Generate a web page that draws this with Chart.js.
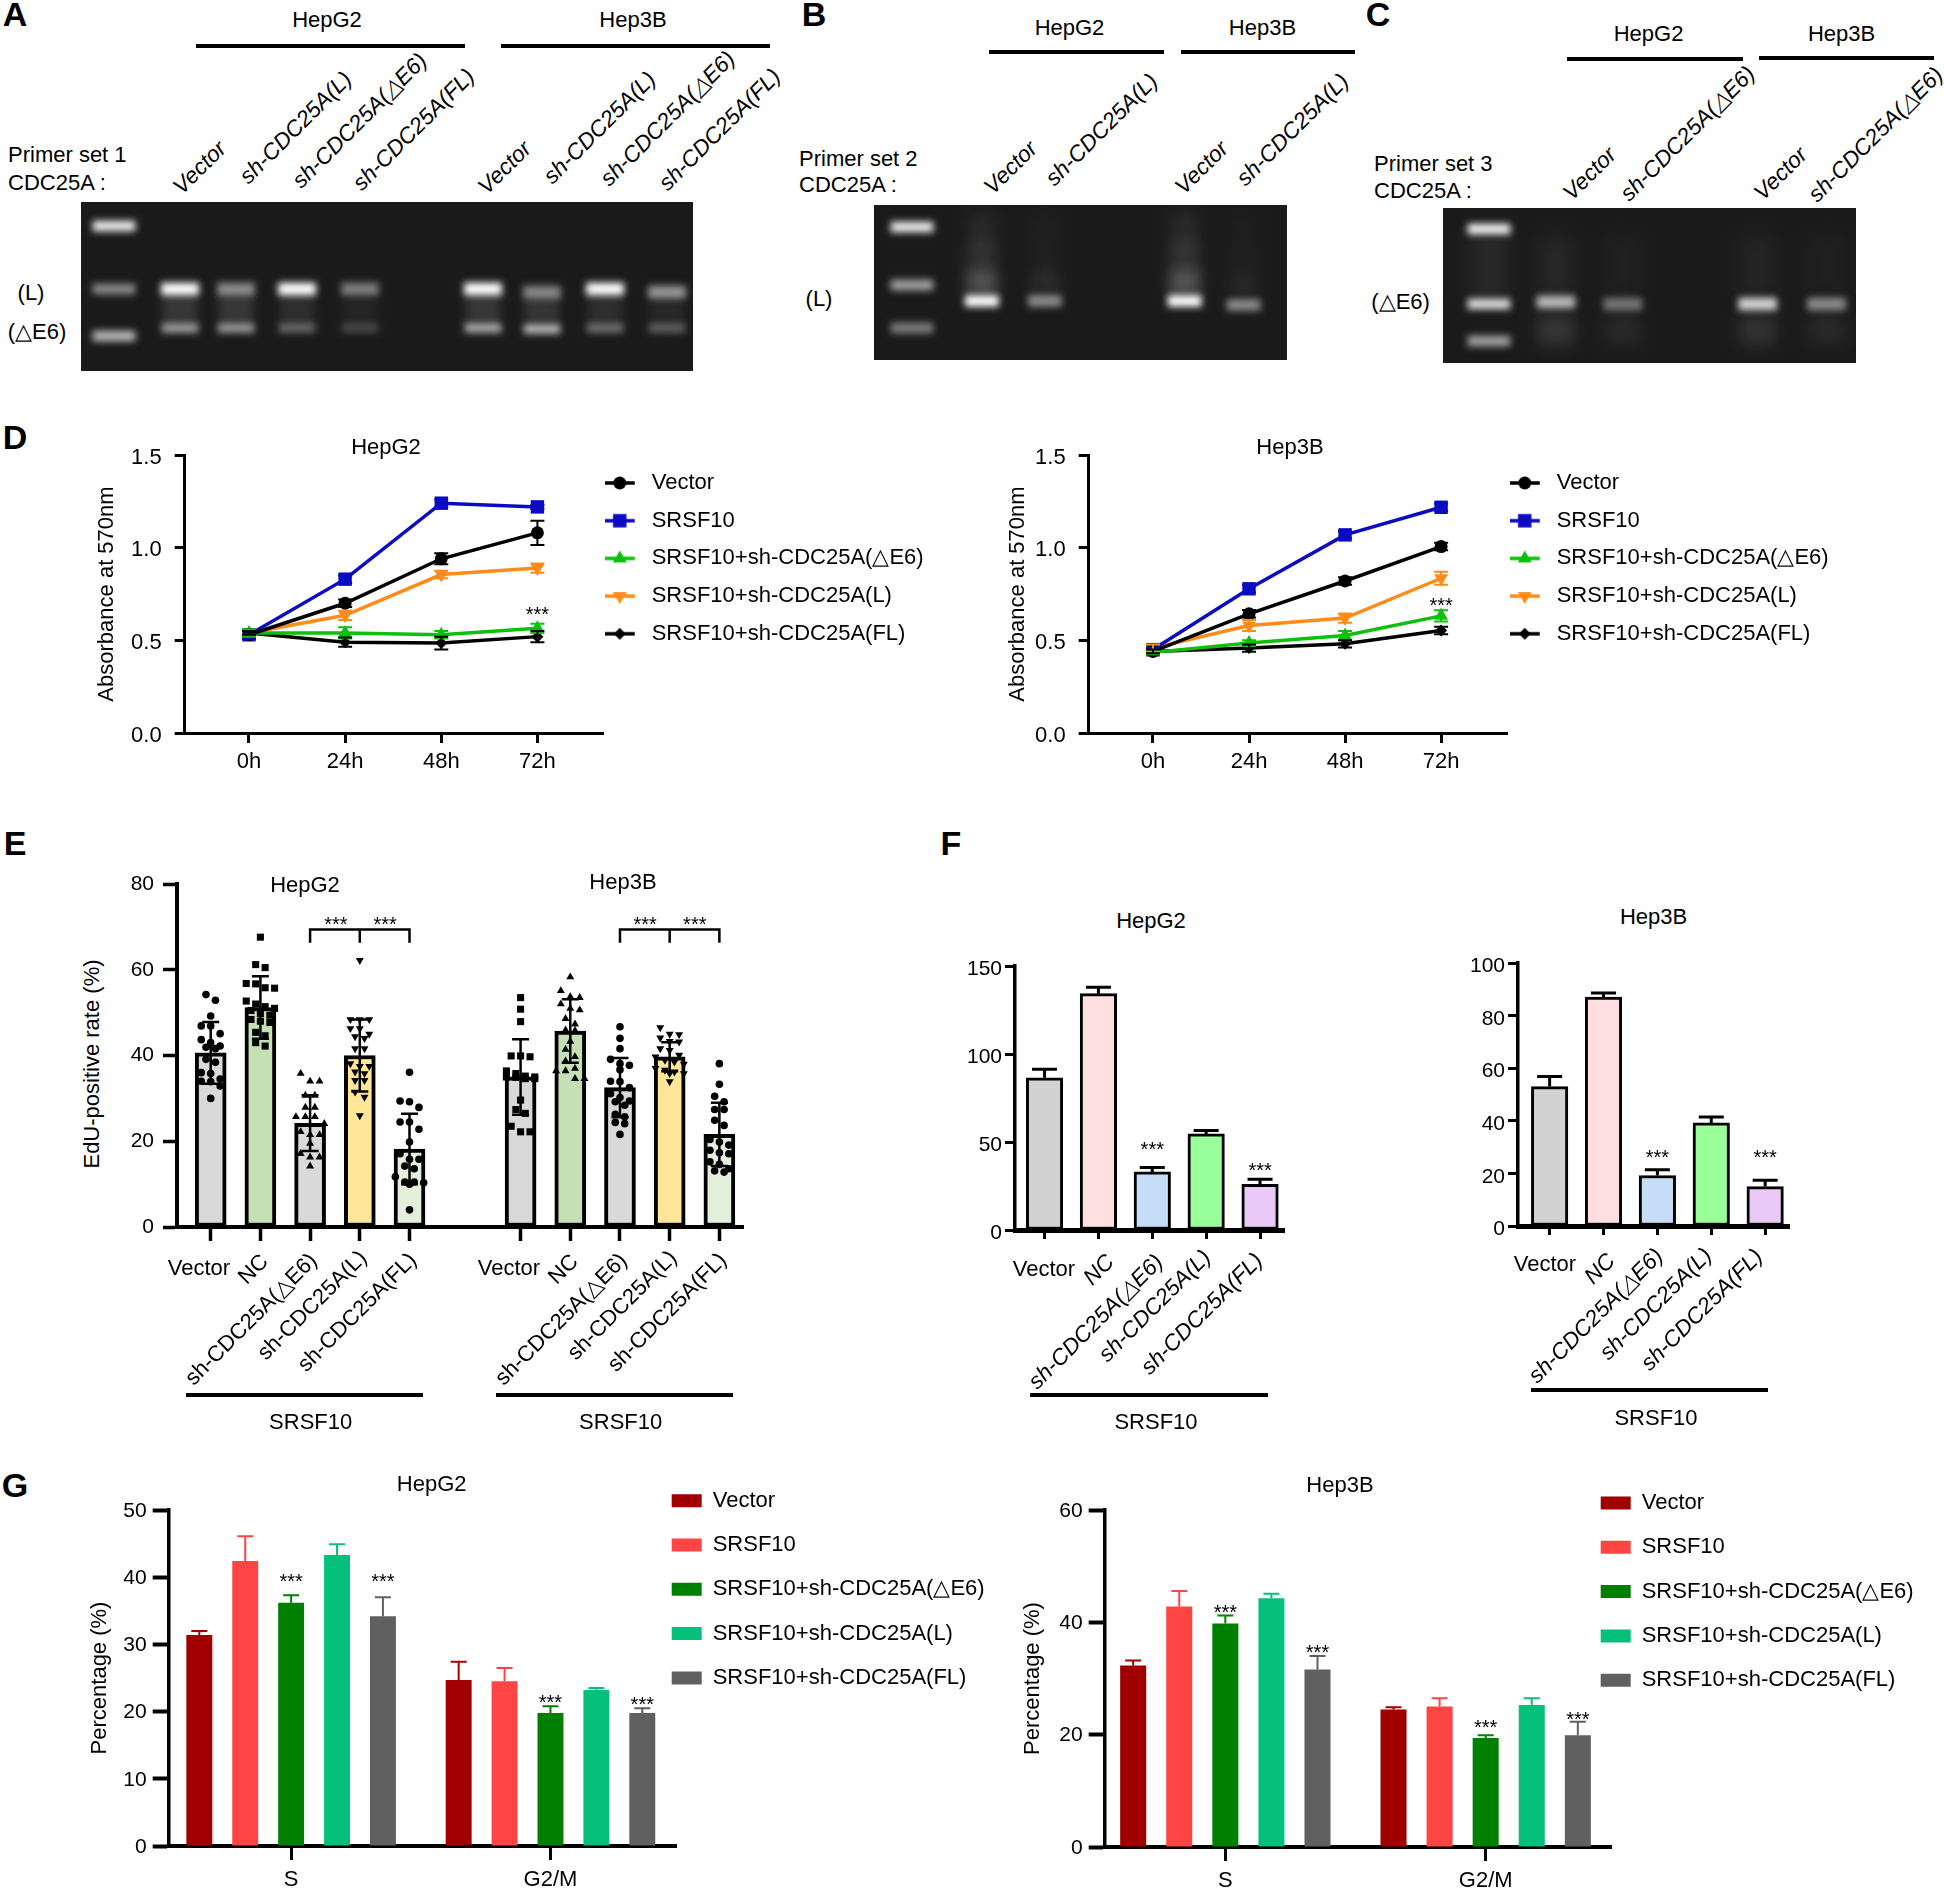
<!DOCTYPE html>
<html>
<head>
<meta charset="utf-8">
<title>CDC25A panels</title>
<script src="https://cdn.jsdelivr.net/npm/chart.js"></script>
<style>
html, body { margin: 0; padding: 0; background: #fff; }
#page { position: relative; width: 1944px; height: 1890px; overflow: hidden; font-family: "Liberation Sans", Arial, sans-serif; color: #000; }
#page canvas { position: absolute; }
.txt { position: absolute; white-space: nowrap; line-height: 1; transform-origin: center center; }
.rule { position: absolute; background: #000; }
</style>
</head>
<body>
<div id="page"></div>
<script>
// ---- data ----
const FONT = '"Liberation Sans", Arial, sans-serif';

const timeLabels = ['0h', '24h', '48h', '72h'];
const seriesNames = ['Vector', 'SRSF10', 'SRSF10+sh-CDC25A(△E6)', 'SRSF10+sh-CDC25A(L)', 'SRSF10+sh-CDC25A(FL)'];
const cycleLabels = ['S', 'G2/M'];

// D, HepG2
const dHepG2Vector = [0.53, 0.70, 0.94, 1.08];
const dHepG2Srsf = [0.53, 0.83, 1.24, 1.22];
const dHepG2E6 = [0.54, 0.54, 0.53, 0.565];
const dHepG2L = [0.54, 0.635, 0.855, 0.89];
const dHepG2FL = [0.54, 0.49, 0.485, 0.52];
const dHepG2Err = [[0.02, 0.02, 0.03, 0.065], [0.02, 0.02, 0.02, 0.01], [0.02, 0.03, 0.02, 0.025], [0.01, 0.025, 0.02, 0.025], [0.01, 0.025, 0.035, 0.03]];
// D, Hep3B
const dHep3BVector = [0.44, 0.643, 0.82, 1.006];
const dHep3BSrsf = [0.45, 0.778, 1.069, 1.218];
const dHep3BE6 = [0.435, 0.485, 0.526, 0.632];
const dHep3BL = [0.458, 0.58, 0.62, 0.835];
const dHep3BFL = [0.44, 0.458, 0.481, 0.553];
const dHep3BErr = [[0.01, 0.02, 0.02, 0.02], [0.01, 0.02, 0.02, 0.02], [0.01, 0.015, 0.025, 0.03], [0.02, 0.03, 0.025, 0.035], [0.01, 0.02, 0.02, 0.02]];

// E
const eMeans = [40.6, 51.2, 24.2, 40, 18.2, 35, 45.7, 32.5, 39.7, 21.6];
const eErrors = [7.2, 7.3, 6.5, 8.4, 8.2, 8.8, 7.4, 6.9, 3.4, 7.4];
const eColors = ['#d9d9d9', '#c5e0b4', '#d9d9d9', '#ffe699', '#e2efda', '#d9d9d9', '#c5e0b4', '#d9d9d9', '#ffe699', '#e2efda'];
const eDots1 = [54.2, 52.9, 49.2, 46.9, 46.9, 45.1, 43.7, 43, 42.2, 41.9, 41.6, 39.1, 38.4, 36, 35.8, 34.5, 34, 33.9, 32.9, 30];
const eDots2 = [67.6, 61.2, 60.5, 56.8, 56.7, 55.8, 55.7, 52.7, 52, 51.4, 51, 50.5, 49.8, 49.4, 48.4, 48, 47.7, 45.4, 44.6, 43, 42.2];
const eDots3 = [35.8, 34, 34, 30.7, 30.7, 27.9, 27.9, 25.7, 25.7, 25.7, 24.1, 22.2, 21.5, 21.5, 19.5, 17.1, 16.3, 16.3, 14.2];
const eDots4 = [62.2, 48.4, 48.4, 48.4, 46.3, 46.3, 45, 44.4, 44, 41.6, 41.6, 38.1, 37.5, 37.5, 36.2, 35.8, 34.2, 34.2, 31.5, 30.3, 26];
const eDots5 = [36.1, 29.4, 29.2, 27.9, 24.5, 24.5, 22.8, 19.8, 17.1, 15.8, 15.8, 14.2, 13.6, 11.7, 10.5, 10.5, 10.3, 10, 4];
const eDots6 = [53.5, 50.8, 47.9, 39.9, 39.9, 39.7, 36.4, 35.8, 35.2, 35, 35, 34.9, 34.6, 34.6, 29.6, 27.4, 26.5, 23.5, 22.2, 22.2];
const eDots7 = [58.3, 55.1, 53.7, 53.5, 52, 51, 50.6, 48.6, 47.3, 45.9, 45.8, 43.3, 41.4, 39.7, 38.7, 37, 36.4, 36.4, 34.6, 34.6];
const eDots8 = [46.7, 44, 41.6, 39.1, 38.1, 37.7, 36.7, 34, 33.9, 32.5, 31.1, 30.2, 29.4, 29.2, 28.4, 26.3, 25.7, 24.4, 24.1, 21.6];
const eDots9 = [46.5, 45, 44.9, 44.1, 43.3, 43.2, 41.6, 41.2, 40.1, 39.7, 38.9, 38.5, 38, 37, 36.6, 36.2, 35.8, 35.8, 33.9];
const eDots10 = [38.1, 33.3, 30.5, 29.2, 27.4, 27.4, 24.9, 23.7, 20.4, 19.8, 19.1, 17.9, 17.3, 17.1, 15.2, 14.6, 13.6, 13.1, 12.8];
const eDots = [eDots1, eDots2, eDots3, eDots4, eDots5, eDots6, eDots7, eDots8, eDots9, eDots10];
const eShapes = ['circle', 'rect', 'triangle', 'down', 'circle', 'rect', 'triangle', 'circle', 'down', 'circle'];

// F
const fColors = ['#d2d2d2', '#ffdfdf', '#c6ddf8', '#99ff99', '#eac9f6'];
const fHepG2 = [86.5, 134.3, 33, 54.6, 26];
const fHepG2Err = [4.8, 3.6, 2.5, 1.9, 2.8];
const fHep3B = [53, 87, 19.2, 39.2, 15];
const fHep3BErr = [3.8, 1.6, 2.2, 2.2, 2.4];

// G
const gColors = ['#a00000', '#ff4444', '#008000', '#05c07a', '#606060'];
const gHepG2 = [[31.4, 24.7], [42.4, 24.5], [36.2, 19.8], [43.3, 23.2], [34.2, 19.8]];
const gHepG2Err = [[0.6, 2.7], [3.7, 2], [1.1, 1], [1.6, 0.3], [2.8, 0.7]];
const gHep3B = [[32.3, 24.5], [42.8, 25], [39.8, 19.4], [44.3, 25.3], [31.6, 19.9]];
const gHep3BErr = [[0.9, 0.4], [2.8, 1.5], [1.4, 0.5], [0.8, 1.2], [2.4, 2.4]];

// gels, positions in px from the gel's top left corner, glow is band brightness 0-255
const gelALanes = [99, 155, 216, 279, 402, 461, 524, 586];
const gelALadderY = [24, 87, 134];
const gelALadderGlow = [235, 125, 175];
const gelALongY = [87, 87, 87, 87, 87, 90, 87, 90];
const gelALongGlow = [255, 125, 255, 110, 255, 115, 255, 135];
const gelASmearGlow = [32, 32, 22, 12, 32, 30, 22, 15];
const gelAShortY = [126, 126, 126, 126, 126, 127, 126, 126];
const gelAShortGlow = [145, 140, 85, 50, 160, 175, 95, 78];

const gelBLanes = [108, 171, 311, 370];
const gelBLadderY = [22, 80, 123];
const gelBLadderGlow = [235, 150, 110];
const gelBBandY = [96, 96, 96, 100];
const gelBBandGlow = [255, 125, 255, 125];
const gelBSmearGlow = [60, 18, 65, 14];

const gelCLanes = [113, 180, 315, 384];
const gelCLadderY = [21, 96, 133];
const gelCLadderGlow = [240, 215, 150];
const gelCBandY = [94, 96, 96, 96];
const gelCBandGlow = [175, 100, 205, 125];
const gelCSmearGlow = [30, 16, 26, 16];

// ---- page helpers ----
const page = document.getElementById('page');

function label(text, x, y, o) {
    o = o || {};
    const d = document.createElement('div');
    d.className = 'txt';
    d.textContent = text;
    d.style.left = x + 'px';
    d.style.top = y + 'px';
    d.style.fontSize = (o.size || 22) + 'px';
    if (o.bold) d.style.fontWeight = 'bold';
    if (o.italic) d.style.fontStyle = 'italic';
    const tx = o.left ? '0' : '-50%';
    d.style.transform = 'translate(' + tx + ',-50%) rotate(' + (o.rot || 0) + 'deg)';
    page.appendChild(d);
}

function rule(x1, x2, y, h) {
    const d = document.createElement('div');
    d.className = 'rule';
    d.style.left = x1 + 'px';
    d.style.width = (x2 - x1) + 'px';
    d.style.top = (y - (h || 4) / 2) + 'px';
    d.style.height = (h || 4) + 'px';
    page.appendChild(d);
}

function slanted(items, italic) {
    items.forEach(it => label(it[0], it[1], it[2], { rot: -45, italic: italic, size: italic ? 22.5 : 22 }));
}

function addCanvas(box, m) {
    const c = document.createElement('canvas');
    c.width = box.r - box.l + m.left + m.right;
    c.height = box.b - box.t + m.top + m.bottom;
    c.style.left = (box.l - m.left) + 'px';
    c.style.top = (box.t - m.top) + 'px';
    c.style.width = c.width + 'px';
    c.style.height = c.height + 'px';
    page.appendChild(c);
    return c;
}

Chart.defaults.font.family = FONT;
Chart.defaults.color = '#000';
Chart.defaults.animation = false;
Chart.defaults.responsive = false;
Chart.defaults.devicePixelRatio = 1;

// error bars, brackets and stars, always placed through the scales
Chart.register({
    id: 'marks',
    afterDatasetsDraw(chart, args, opts) {
        const ctx = chart.ctx;
        const xs = chart.scales.x, ys = chart.scales.y;
        ctx.save();
        chart.data.datasets.forEach((ds, i) => {
            if (!ds.errors) return;
            const st = ds.errorStyle;
            const meta = chart.getDatasetMeta(i);
            ctx.strokeStyle = st.color || ds.borderColor;
            ctx.lineWidth = st.width;
            ds.errors.forEach((e, j) => {
                const x = meta.data[j].x;
                const v = ds.data[j].y;
                const hi = ys.getPixelForValue(v + e);
                const lo = st.upOnly ? ys.getPixelForValue(v) : ys.getPixelForValue(v - e);
                ctx.beginPath();
                ctx.moveTo(x, lo);
                ctx.lineTo(x, hi);
                ctx.moveTo(x - st.cap / 2, hi);
                ctx.lineTo(x + st.cap / 2, hi);
                if (!st.upOnly) {
                    ctx.moveTo(x - st.cap / 2, lo);
                    ctx.lineTo(x + st.cap / 2, lo);
                }
                ctx.stroke();
            });
        });
        (opts.brackets || []).forEach(b => {
            const top = ys.getPixelForValue(b.top), foot = ys.getPixelForValue(b.foot);
            ctx.strokeStyle = '#000';
            ctx.lineWidth = 2.5;
            ctx.beginPath();
            ctx.moveTo(xs.getPixelForValue(b.at[0]), foot);
            ctx.lineTo(xs.getPixelForValue(b.at[0]), top);
            ctx.lineTo(xs.getPixelForValue(b.at[2]), top);
            ctx.lineTo(xs.getPixelForValue(b.at[2]), foot);
            ctx.moveTo(xs.getPixelForValue(b.at[1]), top);
            ctx.lineTo(xs.getPixelForValue(b.at[1]), foot);
            ctx.stroke();
        });
        ctx.fillStyle = '#000';
        ctx.font = '20px ' + FONT;
        ctx.textAlign = 'center';
        ctx.textBaseline = 'middle';
        (opts.stars || []).forEach(s => {
            const x = chart.getDatasetMeta(s[0]).data[s[1]].x;
            ctx.fillText('***', x, ys.getPixelForValue(s[2]) + 5);
        });
        (opts.starsAt || []).forEach(s => {
            ctx.fillText('***', xs.getPixelForValue(s[0]), ys.getPixelForValue(s[1]) + 5);
        });
        ctx.restore();
    }
});

// legend keeps its own drawing, only its box is pinned to a spot
Chart.register({
    id: 'legendAt',
    beforeInit(chart) {
        const o = chart.options.plugins.legendAt;
        if (!o || !o.reserve) return;
        const fit = chart.legend.fit;
        chart.legend.fit = function () {
            fit.call(this);
            this.width = o.reserve;
        };
    },
    afterLayout(chart, args, o) {
        if (!o || !o.reserve) return;
        const l = chart.legend;
        const pad = chart.options.plugins.legend.labels.padding;
        l.left = o.x - pad;
        l.top = o.y - 11 - pad;
        l.bottom = l.top + 2000;
    }
});

// gel bands get soft edges, each band set with its own blur
Chart.register({
    id: 'gelBlur',
    beforeDatasetDraw(chart, args) {
        const b = chart.data.datasets[args.index].blur;
        if (b) {
            chart.ctx.save();
            chart.ctx.filter = 'blur(' + b + 'px)';
        }
    },
    afterDatasetDraw(chart, args) {
        if (chart.data.datasets[args.index].blur) chart.ctx.restore();
    }
});

function yAxis(min, max, step, m, o) {
    const size = o.size || 21;
    const s = {
        min: min, max: max,
        afterFit: sc => { sc.width = m.left; },
        border: { color: '#000', width: o.line },
        grid: { drawOnChartArea: false, tickLength: o.len, tickWidth: o.tick, tickColor: '#000' },
        ticks: { stepSize: step, padding: o.pad, labelOffset: o.drop || 0, color: '#000', font: { size: size } }
    };
    if (o.fmt) s.ticks.callback = o.fmt;
    if (o.title) s.title = { display: true, text: o.title, padding: 0, color: '#000', font: { size: 22 } };
    return s;
}

function xAxis(box, p0, step, at, names, m, o) {
    return {
        type: 'linear',
        offset: false,
        min: (box.l - p0) / step,
        max: (box.r - p0) / step,
        afterFit: sc => { sc.height = m.bottom; },
        afterBuildTicks: sc => { sc.ticks = at.map(v => ({ value: v })); },
        border: { color: '#000', width: o.line },
        grid: { offset: false, drawOnChartArea: false, tickLength: o.len, tickWidth: o.tick, tickColor: '#000' },
        ticks: {
            display: !!names, autoSkip: false, maxRotation: 0, minRotation: 0, padding: o.pad || 0, color: '#000', font: { size: 22 },
            callback: v => (names ? names[at.indexOf(v)] : '')
        }
    };
}

// ---- D ----
const dColors = ['#000000', '#0b0bc4', '#0cc00c', '#ff8c1a', '#000000'];
const dMarkers = [
    { pointStyle: 'circle', pointRadius: 6.5, pointRotation: 0 },
    { pointStyle: 'rect', pointRadius: 9.5, pointRotation: 0 },
    { pointStyle: 'triangle', pointRadius: 8, pointRotation: 0 },
    { pointStyle: 'triangle', pointRadius: 8, pointRotation: 180 },
    { pointStyle: 'rectRot', pointRadius: 6, pointRotation: 0 }
];

function swatch(color, mk) {
    const c = document.createElement('canvas');
    c.width = 36; c.height = 20;
    const ctx = c.getContext('2d');
    ctx.strokeStyle = color; ctx.fillStyle = color; ctx.lineWidth = 3.5;
    ctx.beginPath(); ctx.moveTo(0, 10); ctx.lineTo(30, 10); ctx.stroke();
    Chart.helpers.drawPoint(ctx, { pointStyle: mk.pointStyle, radius: mk.pointRadius, rotation: mk.pointRotation, borderWidth: 0 }, 15, 10);
    return c;
}

function growthChart(box, p0, step, titleX, legendX, series, errs, stars) {
    const m = { left: box.l - (titleX - 10.7), right: 350, top: 30, bottom: 60 };
    const at = [0, 1, 2, 3];
    new Chart(addCanvas(box, m), {
        type: 'line',
        data: {
            datasets: series.map((vals, i) => Object.assign({
                label: seriesNames[i],
                data: vals.map((v, j) => ({ x: j, y: v })),
                borderColor: dColors[i], backgroundColor: dColors[i], pointBackgroundColor: dColors[i],
                pointBorderWidth: 0, borderWidth: 3.5, tension: 0, clip: false,
                errors: errs[i], errorStyle: { width: 2, cap: 14 }
            }, dMarkers[i]))
        },
        options: {
            layout: { padding: { top: m.top } },
            scales: {
                x: xAxis(box, p0, step, at, timeLabels, m, { line: 3, len: 10, tick: 3, pad: 6 }),
                y: yAxis(0, 1.5, 0.5, m, { line: 3, len: 10, tick: 3, pad: 13, drop: 2.5, size: 22, fmt: v => v.toFixed(1), title: 'Absorbance at 570nm' })
            },
            plugins: {
                legend: {
                    position: 'right', align: 'start',
                    labels: {
                        usePointStyle: true, pointStyleWidth: 36, boxHeight: 22, padding: 15.7, color: '#000', font: { size: 22 },
                        generateLabels(chart) {
                            const items = Chart.defaults.plugins.legend.labels.generateLabels(chart);
                            items.forEach((it, i) => { it.pointStyle = swatch(dColors[i], dMarkers[i]); it.rotation = 0; });
                            return items;
                        }
                    }
                },
                legendAt: { reserve: m.right, x: legendX - (box.l - m.left), y: 483 - (box.t - m.top) },
                marks: { stars: stars },
                tooltip: { enabled: false }
            }
        }
    });
}

growthChart({ l: 185, t: 455, r: 604, b: 733 }, 249.4, 96.3, 105, 605,
    [dHepG2Vector, dHepG2Srsf, dHepG2E6, dHepG2L, dHepG2FL], dHepG2Err, [[2, 3, 0.66]]);
growthChart({ l: 1089, t: 455, r: 1508, b: 733 }, 1153.4, 96.2, 1016, 1510,
    [dHep3BVector, dHep3BSrsf, dHep3BE6, dHep3BL, dHep3BFL], dHep3BErr, [[2, 3, 0.71]]);

// ---- E ----
function swarm(values, lane) {
    // same kind of binned spread the original dot plot has
    const sorted = values.slice().sort((a, b) => b - a);
    const out = [];
    let row = [];
    const flush = () => {
        row.forEach((v, k) => out.push({ x: lane + (k - (row.length - 1) / 2) * 0.19, y: v }));
        row = [];
    };
    sorted.forEach(v => {
        if (row.length && (row[0] - v > 1.8 || row.length === 4)) flush();
        row.push(v);
    });
    flush();
    return out;
}

const eLanes = [0, 1, 2, 3, 4, 6.235, 7.235, 8.235, 9.235, 10.235];
(function () {
    const box = { l: 177, t: 884, r: 743, b: 1227 };
    const m = { left: 60, right: 10, top: 30, bottom: 30 };
    const dotSets = eDots.map((vals, i) => {
        const down = eShapes[i] === 'down';
        const shape = down ? 'triangle' : eShapes[i];
        return {
            type: 'scatter', order: 1, clip: false,
            data: swarm(vals, eLanes[i]),
            pointStyle: shape, pointRotation: down ? 180 : 0,
            pointRadius: shape === 'rect' ? 5 : (shape === 'circle' ? 3.8 : 4.6),
            pointBackgroundColor: '#000', pointBorderWidth: 0
        };
    });
    new Chart(addCanvas(box, m), {
        type: 'bar',
        data: {
            datasets: [{
                order: 3,
                data: eMeans.map((v, i) => ({ x: eLanes[i], y: v })),
                backgroundColor: eColors, borderColor: '#000', borderWidth: 4, borderSkipped: false, barThickness: 31,
                errors: eErrors, errorStyle: { width: 2.5, cap: 17, color: '#000' }
            }].concat(dotSets)
        },
        options: {
            layout: { padding: { top: m.top, right: m.right } },
            scales: {
                x: xAxis(box, 210.7, 49.7, eLanes, null, m, { line: 4, len: 14, tick: 3.5 }),
                y: yAxis(0, 80, 20, m, { line: 4, len: 14, tick: 3.5, pad: 9 })
            },
            plugins: {
                legend: { display: false }, tooltip: { enabled: false },
                marks: {
                    brackets: [{ at: [2, 3, 4], top: 69.4, foot: 66.3 }, { at: [8.235, 9.235, 10.235], top: 69.4, foot: 66.3 }],
                    starsAt: [[2.52, 71.6], [3.51, 71.6], [8.74, 71.6], [9.74, 71.6]]
                }
            }
        }
    });
})();

// ---- F ----
function foldChart(box, p0, step, max, stepY, values, errs, stars) {
    const m = { left: 60, right: 10, top: 30, bottom: 30 };
    new Chart(addCanvas(box, m), {
        type: 'bar',
        data: {
            datasets: [{
                data: values.map((v, i) => ({ x: i, y: v })),
                backgroundColor: fColors, borderColor: '#000', borderWidth: 3, borderSkipped: false, barThickness: 36.5,
                errors: errs, errorStyle: { width: 3, cap: 25, color: '#000', upOnly: true }
            }]
        },
        options: {
            layout: { padding: { top: m.top, right: m.right } },
            scales: {
                x: xAxis(box, p0, step, [0, 1, 2, 3, 4], null, m, { line: 5, len: 9, tick: 3 }),
                y: yAxis(0, max, stepY, m, { line: 3.5, len: 10, tick: 3, pad: 3, drop: 3.5 })
            },
            plugins: { legend: { display: false }, tooltip: { enabled: false }, marks: { stars: stars } }
        }
    });
}
foldChart({ l: 1015.4, t: 966.4, r: 1285, b: 1230.4 }, 1045, 54, 150, 50, fHepG2, fHepG2Err, [[0, 2, 48], [0, 4, 36]]);
foldChart({ l: 1518, t: 962.9, r: 1789.6, b: 1226 }, 1549.7, 54, 100, 20, fHep3B, fHep3BErr, [[0, 2, 27.5], [0, 4, 27.5]]);

// ---- G ----
function cycleChart(box, p0, step, max, stepY, titleX, legendX, legendY, values, errs, stars) {
    const m = { left: box.l - (titleX - 10.7), right: 330, top: 30, bottom: 44 };
    new Chart(addCanvas(box, m), {
        type: 'bar',
        data: {
            datasets: values.map((vals, i) => ({
                label: seriesNames[i],
                data: vals.map((v, j) => ({ x: j, y: v })),
                backgroundColor: gColors[i], borderColor: gColors[i], borderWidth: 0,
                categoryPercentage: 0.885, barPercentage: 0.565,
                errors: errs[i], errorStyle: { width: 2, cap: 16, upOnly: true }
            }))
        },
        options: {
            layout: { padding: { top: m.top } },
            scales: {
                x: xAxis(box, p0, step, [0, 1], cycleLabels, m, { line: 4, len: 14, tick: 3, pad: 7 }),
                y: yAxis(0, max, stepY, m, { line: 3.5, len: 16, tick: 4, pad: 6, drop: 1 , title: 'Percentage (%)' })
            },
            plugins: {
                legend: {
                    position: 'right', align: 'start',
                    labels: { boxWidth: 30, boxHeight: 13, padding: 22.3, color: '#000', font: { size: 22 } }
                },
                legendAt: { reserve: m.right, x: legendX - (box.l - m.left), y: legendY - (box.t - m.top) },
                marks: { stars: stars },
                tooltip: { enabled: false }
            }
        }
    });
}
cycleChart({ l: 169, t: 1510, r: 676.6, b: 1846.7 }, 291.5, 259.5, 50, 10, 98, 672, 1500.7, gHepG2, gHepG2Err,
    [[2, 0, 40], [4, 0, 40], [2, 1, 22], [4, 1, 21.7]]);
cycleChart({ l: 1105, t: 1510, r: 1612, b: 1847 }, 1225.8, 260.7, 60, 20, 1031, 1601, 1503, gHep3B, gHep3BErr,
    [[2, 0, 42.5], [4, 0, 35.4], [2, 1, 22], [4, 1, 23.4]]);

// ---- gels A, B, C ----
function bandSet(lanes, ys, glows, width, height, order, blur) {
    return {
        stack: 'gel', order: order, blur: blur,
        data: lanes.map((x, i) => ({ x: x, y: [ys[i] - height / 2, ys[i] + height / 2] })),
        backgroundColor: glows.map(g => 'rgba(255,255,255,' + (g / 255).toFixed(3) + ')'),
        borderWidth: 0, barThickness: width
    };
}
const same = (lanes, v) => lanes.map(() => v);

function gelChart(box, sets) {
    const c = addCanvas(box, { left: 0, right: 0, top: 0, bottom: 0 });
    c.style.background = '#1a1a1a';
    new Chart(c, {
        type: 'bar',
        data: { datasets: sets },
        options: {
            layout: { padding: 0 },
            scales: {
                x: { type: 'linear', offset: false, min: 0, max: box.r - box.l, display: false, grid: { offset: false } },
                y: { min: 0, max: box.b - box.t, reverse: true, stacked: false, display: false }
            },
            plugins: { legend: { display: false }, tooltip: { enabled: false } }
        }
    });
}

gelChart({ l: 81, t: 202, r: 693, b: 371 }, [
    bandSet(gelALanes, same(gelALanes, 106), gelASmearGlow, 34, 30, 5, 5),
    bandSet(gelALanes, gelAShortY, gelAShortGlow, 36, 9, 2, 3.5),
    bandSet(gelALanes, gelALongY, gelALongGlow, 37, 12, 1, 3.5),
    bandSet([33, 33, 33], gelALadderY, gelALadderGlow, 42, 10, 1, 3.5)
]);

gelChart({ l: 873.5, t: 205, r: 1287, b: 360 }, [
    bandSet(gelBLanes, same(gelBLanes, 24), gelBSmearGlow.map(g => g * 0.25), 28, 36, 6, 8),
    bandSet(gelBLanes, same(gelBLanes, 52), gelBSmearGlow.map(g => g * 0.45), 28, 30, 5, 8),
    bandSet(gelBLanes, same(gelBLanes, 78), gelBSmearGlow, 30, 24, 4, 7),
    bandSet(gelBLanes, gelBBandY, gelBBandGlow, 33, 11, 1, 3.5),
    bandSet([38, 38, 38], gelBLadderY, gelBLadderGlow, 42, 10, 1, 3.5)
]);

gelChart({ l: 1443, t: 208, r: 1856.5, b: 363 }, [
    bandSet(gelCLanes, same(gelCLanes, 58), gelCSmearGlow.map(g => g * 0.45), 34, 60, 6, 9),
    bandSet(gelCLanes, same(gelCLanes, 122), gelCSmearGlow, 36, 30, 5, 8),
    bandSet([46], [58], [14], 40, 70, 5, 8),
    bandSet(gelCLanes, gelCBandY, gelCBandGlow, 38, 12, 1, 3.5),
    bandSet([46, 46, 46], gelCLadderY, gelCLadderGlow, 42, 10, 1, 3.5)
]);

// ---- text and rules round the charts ----
[['A', 15, 14], ['B', 814, 14], ['C', 1378, 14], ['D', 15, 437], ['E', 15, 843], ['F', 951, 843], ['G', 15, 1485]]
    .forEach(p => label(p[0], p[1], p[2], { size: 34, bold: true }));

label('HepG2', 327, 20); label('Hep3B', 633, 20);
rule(196, 465, 46); rule(501, 770, 46);
label('Primer set 1', 8, 155, { left: true }); label('CDC25A :', 8, 183, { left: true });
label('(L)', 31, 293); label('(△E6)', 37, 332);
slanted([['Vector', 200, 168], ['sh-CDC25A(L)', 296, 128], ['sh-CDC25A(△E6)', 360, 121], ['sh-CDC25A(FL)', 414, 130],
    ['Vector', 505, 168], ['sh-CDC25A(L)', 600, 128], ['sh-CDC25A(△E6)', 668, 119], ['sh-CDC25A(FL)', 720, 130]], true);

label('HepG2', 1069.5, 28); label('Hep3B', 1262.5, 28);
rule(989, 1164, 52); rule(1181, 1355, 52);
label('Primer set 2', 799, 159, { left: true }); label('CDC25A :', 799, 185, { left: true });
label('(L)', 819, 299);
slanted([['Vector', 1011, 168], ['sh-CDC25A(L)', 1102, 130], ['Vector', 1202, 168], ['sh-CDC25A(L)', 1293, 130]], true);

label('HepG2', 1648.6, 34); label('Hep3B', 1841.6, 34);
rule(1567, 1743, 59); rule(1758.5, 1934, 58);
label('Primer set 3', 1374, 164, { left: true }); label('CDC25A :', 1374, 191, { left: true });
label('(△E6)', 1400.6, 302);
slanted([['Vector', 1590, 174], ['sh-CDC25A(△E6)', 1687.6, 134], ['Vector', 1781, 174], ['sh-CDC25A(△E6)', 1876, 135]], true);

label('HepG2', 386, 447); label('Hep3B', 1290, 447);

label('HepG2', 305, 885); label('Hep3B', 623, 882);
label('EdU-positive rate (%)', 92, 1064, { rot: -90 });
[0, 310].forEach(dx => {
    label('Vector', 199 + dx, 1268);
    slanted([['NC', 252.6 + dx, 1269], ['sh-CDC25A(△E6)', 250.5 + dx, 1318.5], ['sh-CDC25A(L)', 311.7 + dx, 1305], ['sh-CDC25A(FL)', 356.7 + dx, 1311.5]], false);
    rule(185.5 + dx, 423 + dx, 1395);
    label('SRSF10', 310.7 + dx, 1421.7);
});

label('HepG2', 1151, 921); label('Hep3B', 1653.6, 916.8);
label('Vector', 1044, 1268.6);
slanted([['NC', 1098.5, 1269.6], ['sh-CDC25A(△E6)', 1095.5, 1322], ['sh-CDC25A(L)', 1154.5, 1305.7], ['sh-CDC25A(FL)', 1201.5, 1314]], true);
rule(1030, 1268, 1394.6); label('SRSF10', 1156, 1422);
label('Vector', 1545, 1264);
slanted([['NC', 1599.7, 1268.6], ['sh-CDC25A(△E6)', 1595.5, 1316], ['sh-CDC25A(L)', 1656, 1303.5], ['sh-CDC25A(FL)', 1701.5, 1309.7]], true);
rule(1531, 1768, 1390.4); label('SRSF10', 1656, 1418);

label('HepG2', 431.7, 1484); label('Hep3B', 1340, 1485);
</script>
</body>
</html>
